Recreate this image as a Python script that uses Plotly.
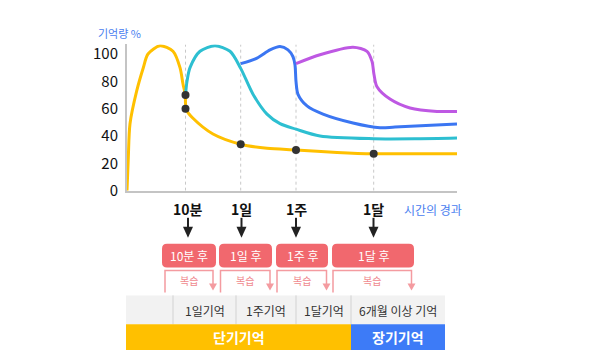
import plotly.graph_objects as go

# ---------------- data ----------------
# x = elapsed-time position along the chart's time axis (arbitrary units), y = memory %
yellow_x = [0, 1.3, 3, 9.7, 16.3, 21, 33, 46, 53, 56, 58.3, 58.5, 59.5, 66, 86, 113.7, 140, 169, 210, 246.7, 290, 330]
yellow_y = [0, 24, 49, 73, 90, 100, 106, 102, 90, 78, 70, 64, 59, 53, 41.5, 34, 31, 29.8, 28, 27, 27, 27]

cyan_x = [58.5, 60, 63, 73, 88, 103, 113.7, 126, 140, 153, 169, 193, 246.7, 290, 330]
cyan_y = [70, 80, 90, 102, 106, 102, 89.5, 70.6, 56, 49, 45, 40, 38, 38, 38.5]

blue_x = [113.7, 130, 143, 153, 161, 166, 168, 169, 171, 180, 196, 226, 253, 268, 330]
blue_y = [93, 97, 103, 105.5, 103, 98, 92, 80, 70.5, 62, 56, 49.5, 46, 46.5, 48.7]

purple_x = [169, 193, 226, 240, 245, 247, 250, 263, 283, 310, 330]
purple_y = [93, 99.5, 105, 102, 94.6, 85, 76, 67, 60.5, 58, 58]

dot_x = [58.5, 58.5, 113.7, 169, 246.7]
dot_y = [70, 60, 34, 29.8, 27]

checkpoints = [58.5, 113.7, 169, 246.7]
checkpoint_labels = ["10분", "1일", "1주", "1달"]
y_ticks = [0, 20, 40, 60, 80, 100]

review_boxes = ["10분 후", "1일 후", "1주 후", "1달 후"]
review_label = "복습"
memory_cells = ["", "1일기억", "1주기억", "1달기억", "6개월 이상 기억"]
memory_types = ["단기기억", "장기기억"]

# ---------------- layout helpers (pixel -> paper) ----------------
W, H = 600, 364
FIG_H = 373  # rendered height; the capture is scaled to 364 px tall
def px(x):
    return x / W
def py(y):
    return 1 - y / H
def pth(points, close=False):
    s = " ".join(("M" if i == 0 else "L") + f" {px(x):.5f} {py(y):.5f}" for i, (x, y) in enumerate(points))
    return s + (" Z" if close else "")

FONT = "Noto Sans CJK KR, Noto Sans, sans-serif"
YELLOW = "#FFC000"
CYAN = "#2DBFD1"
BLUE = "#3B76F2"
PURPLE = "#BE58E3"
RED = "#F1686E"
PINK = "#F49BA0"

fig = go.Figure()
for xs, ys, c in [(yellow_x, yellow_y, YELLOW), (cyan_x, cyan_y, CYAN),
                  (blue_x, blue_y, BLUE), (purple_x, purple_y, PURPLE)]:
    fig.add_trace(go.Scatter(x=xs, y=ys, mode="lines",
                             line=dict(color=c, width=3, shape="spline", smoothing=0.8),
                             cliponaxis=False, hoverinfo="skip"))
fig.add_trace(go.Scatter(x=dot_x, y=dot_y, mode="markers",
                         marker=dict(color="#333333", size=8), cliponaxis=False, hoverinfo="skip"))

shapes = []
for cx in checkpoints:
    shapes.append(dict(type="line", xref="x", yref="y", x0=cx, x1=cx, y0=0, y1=107,
                       line=dict(color="#C8C8C8", width=1, dash="dot"), layer="below"))

annotations = []
annotations.append(dict(text="기억량 %", xref="paper", yref="paper", x=px(96), y=py(31),
                        xanchor="left", yanchor="middle", showarrow=False,
                        font=dict(family=FONT, size=11, color="#4A80F0")))
annotations.append(dict(text="시간의 경과", xref="paper", yref="paper", x=px(433), y=py(209),
                        xanchor="center", yanchor="middle", showarrow=False,
                        font=dict(family=FONT, size=12, color="#4A80F0")))

# checkpoint labels + arrows
arrow_x_px = [188, 241.5, 296, 373.5]
for lab, ax in zip(checkpoint_labels, arrow_x_px):
    annotations.append(dict(text=f"<b>{lab}</b>", xref="paper", yref="paper", x=px(ax), y=py(208),
                            xanchor="center", yanchor="middle", showarrow=False,
                            font=dict(family=FONT, size=14, color="#111111")))
    shapes.append(dict(type="path", xref="paper", yref="paper", path=pth([(ax, 217), (ax, 228)]),
                       line=dict(color="#222222", width=2)))
    shapes.append(dict(type="path", xref="paper", yref="paper",
                       path=pth([(ax - 5, 226), (ax + 5, 226), (ax, 237)], close=True),
                       fillcolor="#222222", line=dict(width=0)))

# review boxes
box_px = [(162, 216), (219, 272), (276, 328), (332, 414)]
br_px = [(165, 213), (220.5, 270), (277, 326.5), (333, 411.5)]
r = 5
t, b = 243, 267
for lab, (l, rr), (bl, brr) in zip(review_boxes, box_px, br_px):
    P = lambda x, y: f"{px(x):.5f} {py(y):.5f}"
    path = (f"M {P(l+r, t)} L {P(rr-r, t)} Q {P(rr, t)} {P(rr, t+r)} L {P(rr, b-r)} "
            f"Q {P(rr, b)} {P(rr-r, b)} L {P(l+r, b)} Q {P(l, b)} {P(l, b-r)} "
            f"L {P(l, t+r)} Q {P(l, t)} {P(l+r, t)} Z")
    shapes.append(dict(type="path", xref="paper", yref="paper", path=path, fillcolor=RED,
                       line=dict(width=0)))
    annotations.append(dict(text=lab, xref="paper", yref="paper", x=px((l + rr) / 2), y=py((t + b) / 2),
                            xanchor="center", yanchor="middle", showarrow=False,
                            font=dict(family=FONT, size=12, color="white")))
    shapes.append(dict(type="path", xref="paper", yref="paper",
                       path=pth([(bl, 292), (bl, 270), (brr, 270), (brr, 284)]),
                       line=dict(color=PINK, width=1.5)))
    shapes.append(dict(type="path", xref="paper", yref="paper",
                       path=pth([(brr - 4, 283), (brr + 4, 283), (brr, 290)], close=True),
                       fillcolor=PINK, line=dict(width=0)))
    annotations.append(dict(text=review_label, xref="paper", yref="paper", x=px((bl + brr) / 2), y=py(280),
                            xanchor="center", yanchor="middle", showarrow=False,
                            font=dict(family=FONT, size=10, color="#F08A8F")))

# table
cell_edges = [126, 173, 236, 296, 351, 445]
shapes.append(dict(type="rect", xref="paper", yref="paper", x0=px(126), x1=px(445), y0=py(295), y1=py(324),
                   fillcolor="#F2F2F2", line=dict(width=0)))
for e in cell_edges[1:-1]:
    shapes.append(dict(type="line", xref="paper", yref="paper", x0=px(e), x1=px(e), y0=py(295), y1=py(324),
                       line=dict(color="#D2D2D2", width=1)))
for i, lab in enumerate(memory_cells):
    if lab:
        annotations.append(dict(text=lab, xref="paper", yref="paper",
                                x=px((cell_edges[i] + cell_edges[i + 1]) / 2), y=py(310),
                                xanchor="center", yanchor="middle", showarrow=False,
                                font=dict(family=FONT, size=12, color="#333333")))
for (x0, x1), lab, col in zip([(126, 351), (351, 445)], memory_types, [YELLOW, "#3D7BF7"]):
    shapes.append(dict(type="rect", xref="paper", yref="paper", x0=px(x0), x1=px(x1), y0=py(324), y1=py(350),
                       fillcolor=col, line=dict(width=0)))
    annotations.append(dict(text=f"<b>{lab}</b>", xref="paper", yref="paper", x=px((x0 + x1) / 2), y=py(337),
                            xanchor="center", yanchor="middle", showarrow=False,
                            font=dict(family=FONT, size=14, color="white")))

y_px0, y_px100 = 189.7, 52.3
scale = (y_px0 - y_px100) / 100
ytop = 107
fig.update_layout(
    width=W, height=FIG_H, autosize=False, margin=dict(l=0, r=0, t=0, b=0),
    paper_bgcolor="white", plot_bgcolor="rgba(0,0,0,0)", showlegend=False,
    xaxis=dict(domain=[px(127), px(457)], range=[0, 330], showgrid=False, zeroline=False,
               showticklabels=False, showline=True, linecolor="#C4C4C4", linewidth=2, fixedrange=True),
    yaxis=dict(domain=[py(y_px0), py(y_px0 - ytop * scale)], range=[0, ytop], showgrid=False,
               zeroline=False, tickvals=y_ticks, ticks="", showline=True, linecolor="#C4C4C4",
               linewidth=2, ticklabelstandoff=4,
               tickfont=dict(family=FONT, size=15, color="#111111"), fixedrange=True),
    shapes=shapes, annotations=annotations,
)
fig.write_html("out.html", config={"displayModeBar": False, "responsive": False},
               post_script="document.body.style.margin='0';document.body.style.overflow='hidden';")
